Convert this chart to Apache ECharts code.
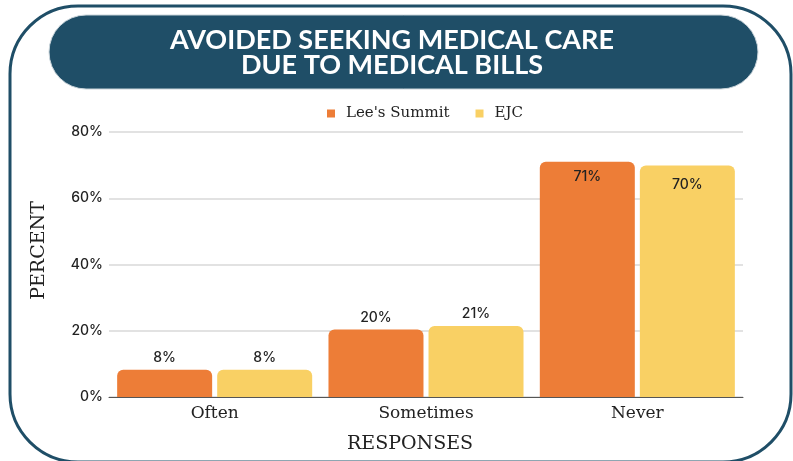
<!DOCTYPE html>
<html>
<head>
<meta charset="utf-8">
<script src="https://cdn.jsdelivr.net/npm/echarts@6/dist/echarts.min.js"></script>
<style>
  html, body { margin: 0; padding: 0; background: #fff; }
  #chart { width: 793px; height: 461px; }
</style>
</head>
<body>
<div id="chart"></div>
<script>
  // chart values
  var categories = ['Often', 'Sometimes', 'Never']
  var leesSummit = [8.2, 20.4, 71.0]
  var ejc = [8.2, 21.4, 69.9]
  var seriesNames = ['Lee\'s Summit', 'EJC']
  var yMin = 0
  var yMax = 80
  var yStep = 20

  var teal = '#1f4e67'
  var serif = '"DejaVu Serif", serif'
  var sans = 'Inter, "Noto Sans", sans-serif'

  // tall bars get their label inside, short ones on top
  function barData (values, insideDist) {
    return values.map(function (v) {
      var item = { value: v }
      if (v > 50) {
        item.label = { position: 'insideTop', distance: insideDist }
      }
      return item
    })
  }

  function barSeries (name, values, color, insideDist) {
    return {
      name: name,
      type: 'bar',
      barWidth: 95,
      barGap: '5.3%',
      itemStyle: { color: color, borderRadius: [6, 6, 0, 0] },
      label: {
        show: true,
        position: 'top',
        distance: 5,
        color: '#222',
        fontFamily: sans,
        fontSize: 14,
        fontWeight: 500,
        formatter: function (p) { return Math.round(p.value) + '%' }
      },
      data: barData(values, insideDist)
    }
  }

  var chart = echarts.init(document.getElementById('chart'))
  chart.setOption({
    animation: false,
    graphic: [
      {
        type: 'rect',
        shape: { x: 10, y: 6, width: 781, height: 456, r: 68 },
        style: { fill: 'none', stroke: teal, lineWidth: 3 }
      },
      {
        type: 'rect',
        shape: { x: 49, y: 15, width: 709, height: 74, r: 37 },
        style: { fill: teal, stroke: '#c9d4da', lineWidth: 1 }
      },
      {
        type: 'text',
        x: 392,
        y: 53,
        style: {
          text: 'AVOIDED SEEKING MEDICAL CARE\nDUE TO MEDICAL BILLS',
          fill: '#fff',
          font: 'bold 27px Lato, sans-serif',
          lineHeight: 25,
          align: 'center',
          verticalAlign: 'middle'
        }
      }
    ],
    legend: {
      data: seriesNames,
      left: 322,
      top: 101,
      icon: 'rect',
      itemWidth: 8,
      itemHeight: 8,
      itemGap: 26,
      textStyle: {
        fontFamily: serif,
        fontSize: 15,
        color: '#222',
        padding: [0, 0, 0, 6]
      }
    },
    grid: { left: 109, right: 50, top: 132, bottom: 64 },
    xAxis: {
      type: 'category',
      data: categories,
      name: 'RESPONSES',
      nameLocation: 'middle',
      nameGap: 38,
      nameTextStyle: {
        fontFamily: serif,
        fontSize: 19,
        color: '#222',
        padding: [0, 32, 0, 0]
      },
      axisLine: { lineStyle: { color: '#555', width: 1 } },
      axisTick: { show: false },
      axisLabel: { margin: 8, fontFamily: serif, fontSize: 17, color: '#222' }
    },
    yAxis: {
      type: 'value',
      min: yMin,
      max: yMax,
      interval: yStep,
      name: 'PERCENT',
      nameLocation: 'middle',
      nameGap: 60,
      nameTextStyle: {
        fontFamily: serif,
        fontSize: 19,
        color: '#222',
        padding: [0, 0, 0, 28]
      },
      axisLine: { show: false },
      axisTick: { show: false },
      axisLabel: {
        formatter: '{value}%',
        margin: 6,
        fontFamily: sans,
        fontSize: 14,
        fontWeight: 500,
        color: '#222'
      },
      splitLine: { lineStyle: { color: '#d9d9d9', width: 1.5 } }
    },
    series: [
      barSeries(seriesNames[0], leesSummit, '#ed7d37', 8),
      barSeries(seriesNames[1], ejc, '#f9d064', 12)
    ]
  })
</script>
</body>
</html>
